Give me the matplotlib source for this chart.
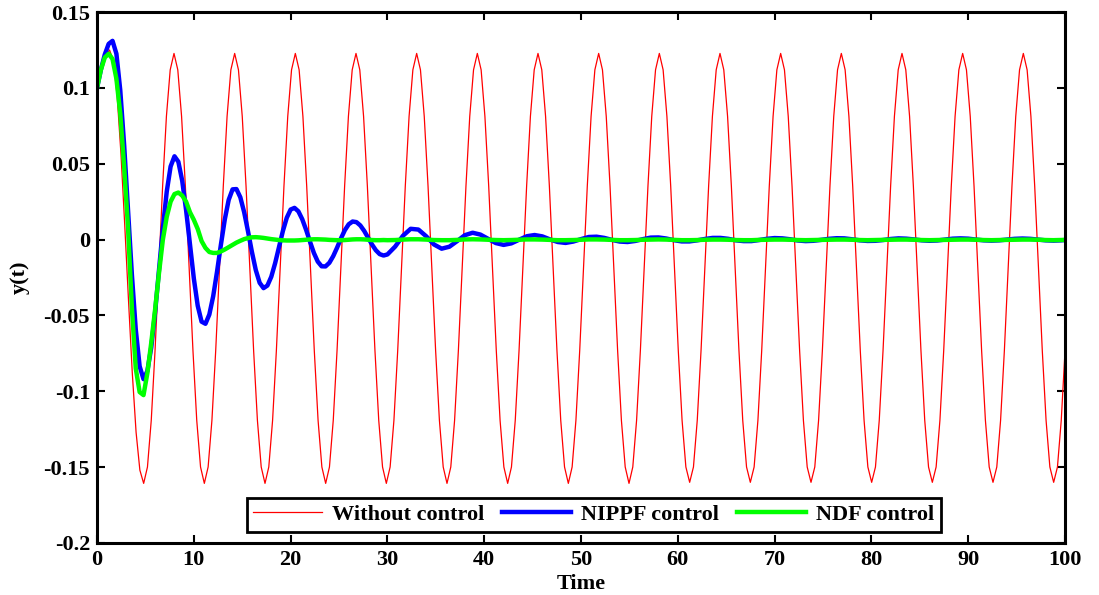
import numpy as np
import matplotlib
matplotlib.use("Agg")
import matplotlib.pyplot as plt

plt.rcParams['font.family'] = ['Liberation Serif', 'DejaVu Serif']
plt.rcParams['font.weight'] = 'bold'
plt.rcParams['axes.unicode_minus'] = False

# time grid of the uncontrolled response (sampled ~16 points per cycle)
t_red = np.concatenate([[0.0], 0.116 + 0.3917 * np.arange(256)])
# time grid of the controlled responses: fine first, coarse once they are small
t_ctrl = np.concatenate([np.arange(0, 29.7, 0.4), np.arange(30, 99.7, 0.8), [100.0]])

# Without control
y_red = [
    0.100,
    0.103, 0.113, 0.121, 0.125, 0.118, 0.095, 0.057, 0.010, -0.040, -0.088, -0.127, -0.152,
    -0.1607, -0.1499, -0.1192, -0.0732, -0.0190, 0.0352, 0.0812, 0.1119,
    0.1227, 0.1119, 0.0812, 0.0352, -0.0190, -0.0732, -0.1192, -0.1499, -0.1607, -0.1499, -0.1192, -0.0732, -0.0190, 0.0352, 0.0812, 0.1119,
    0.1227, 0.1119, 0.0812, 0.0352, -0.0190, -0.0732, -0.1192, -0.1499, -0.1607, -0.1499, -0.1192, -0.0732, -0.0190, 0.0352, 0.0812, 0.1119,
    0.1227, 0.1119, 0.0812, 0.0352, -0.0190, -0.0732, -0.1192, -0.1499, -0.1607, -0.1499, -0.1192, -0.0732, -0.0190, 0.0352, 0.0812, 0.1119,
    0.1227, 0.1119, 0.0812, 0.0352, -0.0190, -0.0732, -0.1192, -0.1499, -0.1607, -0.1499, -0.1192, -0.0732, -0.0190, 0.0352, 0.0812, 0.1119,
    0.1227, 0.1119, 0.0812, 0.0352, -0.0190, -0.0732, -0.1192, -0.1499, -0.1607, -0.1499, -0.1192, -0.0732, -0.0190, 0.0352, 0.0812, 0.1119,
    0.1227, 0.1119, 0.0812, 0.0352, -0.0190, -0.0732, -0.1192, -0.1499, -0.1607, -0.1499, -0.1192, -0.0732, -0.0190, 0.0352, 0.0812, 0.1119,
    0.1227, 0.1119, 0.0812, 0.0352, -0.0190, -0.0732, -0.1192, -0.1499, -0.1607, -0.1499, -0.1192, -0.0732, -0.0190, 0.0352, 0.0812, 0.1119,
    0.1227, 0.1119, 0.0812, 0.0352, -0.0190, -0.0732, -0.1192, -0.1499, -0.1607, -0.1499, -0.1192, -0.0732, -0.0190, 0.0352, 0.0812, 0.1119,
    0.1227, 0.1119, 0.0812, 0.0352, -0.0190, -0.0732, -0.1192, -0.1499, -0.1600, -0.1499, -0.1192, -0.0732, -0.0190, 0.0352, 0.0812, 0.1119,
    0.1227, 0.1119, 0.0812, 0.0352, -0.0190, -0.0732, -0.1192, -0.1499, -0.1600, -0.1499, -0.1192, -0.0732, -0.0190, 0.0352, 0.0812, 0.1119,
    0.1227, 0.1119, 0.0812, 0.0352, -0.0190, -0.0732, -0.1192, -0.1499, -0.1600, -0.1499, -0.1192, -0.0732, -0.0190, 0.0352, 0.0812, 0.1119,
    0.1227, 0.1119, 0.0812, 0.0352, -0.0190, -0.0732, -0.1192, -0.1499, -0.1600, -0.1499, -0.1192, -0.0732, -0.0190, 0.0352, 0.0812, 0.1119,
    0.1227, 0.1119, 0.0812, 0.0352, -0.0190, -0.0732, -0.1192, -0.1499, -0.1600, -0.1499, -0.1192, -0.0732, -0.0190, 0.0352, 0.0812, 0.1119,
    0.1227, 0.1119, 0.0812, 0.0352, -0.0190, -0.0732, -0.1192, -0.1499, -0.1600, -0.1499, -0.1192, -0.0732, -0.0190, 0.0352, 0.0812, 0.1119,
    0.1227, 0.1119, 0.0812, 0.0352, -0.0190, -0.0732, -0.1192, -0.1499, -0.1600, -0.1499, -0.1192, -0.0732,
]

# NIPPF control
y_nippf = [
    0.100, 0.112, 0.122, 0.129, 0.131, 0.1225, 0.0983, 0.0622, 0.0195, -0.0232,
    -0.0593, -0.0835, -0.0920, -0.0866, -0.0711, -0.0478, -0.0203, 0.0076, 0.0316, 0.0482,
    0.0549, 0.0513, 0.0387, 0.0194, -0.0034, -0.0257, -0.0436, -0.0541, -0.0555, -0.0494,
    -0.0373, -0.0210, -0.0032, 0.0134, 0.0262, 0.0331, 0.0333, 0.0279, 0.0180, 0.0053,
    -0.0082, -0.0201, -0.0285, -0.0320, -0.0303, -0.0245, -0.0155, -0.0048, 0.0057, 0.0144,
    0.0198, 0.0209, 0.0186, 0.0134, 0.0064, -0.0014, -0.0088, -0.0145, -0.0176, -0.0177,
    -0.0153, -0.0109, -0.0053, 0.0008, 0.0062, 0.0101, 0.0119, 0.0115, 0.0093, 0.0057,
    0.0013, -0.0032, -0.0070, -0.0096, -0.0105,
    -0.0098, -0.0046, 0.0025, 0.0071, 0.0066, 0.0022, -0.0032, -0.0060, -0.0047, -0.0010,
    0.0029, 0.0045, 0.0033, 0.0005, -0.0023, -0.0035, -0.0025, -0.0001, 0.0022, 0.0030,
    0.0021, 0.0001, -0.0016, -0.0022, -0.0013, 0.0003, 0.0017, 0.0019, 0.0011, -0.0002,
    -0.0013, -0.0016, -0.0009, 0.0003, 0.0013, 0.0014, 0.0007, -0.0004, -0.0012, -0.0012,
    -0.0005, 0.0004, 0.0011, 0.0011, 0.0005, -0.0005, -0.0010, -0.0010, -0.0003, 0.0005,
    0.0010, 0.0008, 0.0002, -0.0006, -0.0010, -0.0008, -0.0002, 0.0005, 0.0009, 0.0008,
    0.0002, -0.0005, -0.0009, -0.0008, -0.0003, 0.0004, 0.0008, 0.0006, 0.0001, -0.0005,
    -0.0008, -0.0006, 0.0000, 0.0006, 0.0008, 0.0006, 0.0000, -0.0005, -0.0007, -0.0005,
    0.0000, 0.0005, 0.0007, 0.0005, 0.0000, -0.0005, -0.0007, -0.0005, -0.0003,
]

# NDF control
y_ndf = [
    0.100, 0.112, 0.120, 0.1225, 0.119, 0.106, 0.083, 0.048, 0.008, -0.045,
    -0.085, -0.1005, -0.1025, -0.088, -0.068, -0.046, -0.022, 0.000, 0.015, 0.025,
    0.030, 0.031, 0.029, 0.025, 0.018, 0.013, 0.007, -0.001, -0.0055, -0.0082,
    -0.0088, -0.0088, -0.0078, -0.0065, -0.0050, -0.0035, -0.0020, -0.0008, 0.0003, 0.0010,
    0.0015, 0.0016, 0.0014, 0.0011, 0.0007, 0.0003, 0.0000, -0.0003, -0.0005, -0.0006,
    -0.0006, -0.0006, -0.0005, -0.0003, -0.0001, 0.0001, 0.0002, 0.0002, 0.0001, 0.0000,
    -0.0002, -0.0003, -0.0004, -0.0004, -0.0003, -0.0001, 0.0001, 0.0002, 0.0002, 0.0001,
    -0.0001, -0.0003, -0.0004, -0.0004, -0.0003,
    -0.0004, -0.0003, 0.0000, 0.0002, 0.0002, 0.0000, -0.0003, -0.0004, -0.0004, -0.0002,
    0.0001, 0.0002, 0.0001, -0.0001, -0.0003, -0.0004, -0.0003, -0.0001, 0.0001, 0.0001,
    0.0000, -0.0002, -0.0004, -0.0004, -0.0003, -0.0001, 0.0001, 0.0001, 0.0000, -0.0002,
    -0.0004, -0.0004, -0.0003, -0.0001, 0.0000, 0.0001, 0.0000, -0.0002, -0.0004, -0.0004,
    -0.0003, -0.0001, 0.0000, 0.0000, -0.0001, -0.0003, -0.0004, -0.0004, -0.0002, -0.0001,
    0.0000, 0.0000, -0.0001, -0.0003, -0.0004, -0.0003, -0.0002, -0.0001, 0.0000, 0.0000,
    -0.0001, -0.0003, -0.0004, -0.0003, -0.0002, -0.0001, 0.0000, 0.0000, -0.0001, -0.0003,
    -0.0004, -0.0003, -0.0002, -0.0001, 0.0000, 0.0000, -0.0001, -0.0003, -0.0004, -0.0003,
    -0.0002, -0.0001, 0.0000, 0.0000, -0.0001, -0.0003, -0.0004, -0.0003, -0.0002,
]

series_names = ['Without control', 'NIPPF control', 'NDF control']
x_ticks = [0, 10, 20, 30, 40, 50, 60, 70, 80, 90, 100]
y_ticks = [0.15, 0.1, 0.05, 0, -0.05, -0.1, -0.15, -0.2]
y_tick_labels = ['0.15', '0.1', '0.05', '0', '-0.05', '-0.1', '-0.15', '-0.2']

fig = plt.figure(figsize=(10.99, 5.95), dpi=100)
ax = fig.add_axes([0.0883, 0.0874, 0.8808, 0.8924])

ax.plot(t_red, y_red, color='#ff0000', lw=0.9, label=series_names[0])
ax.plot(t_ctrl, y_nippf, color='#0000ff', lw=3.2, label=series_names[1])
ax.plot(t_ctrl, y_ndf, color='#00ff00', lw=3.2, label=series_names[2])

ax.set_xlim(0, 100)
ax.set_ylim(-0.2, 0.15)
ax.set_xticks(x_ticks)
ax.set_xticklabels([str(v) for v in x_ticks])
ax.set_yticks(y_ticks)
ax.set_yticklabels(y_tick_labels)
ax.tick_params(direction='in', length=6, width=1.5, top=True, right=True,
               labelsize=16, pad=5)
for s in ax.spines.values():
    s.set_linewidth(2.2)

ax.set_xlabel('Time', fontsize=16, fontweight='bold', labelpad=3)
ax.set_ylabel('y(t)', fontsize=16, fontweight='bold', labelpad=10)

leg = ax.legend(loc='center', bbox_to_anchor=(0.513, 0.053), ncol=3,
                prop={'size': 16, 'weight': 'bold'}, frameon=True, fancybox=False,
                handlelength=3.1, handletextpad=0.45, columnspacing=0.8,
                borderpad=0.3, borderaxespad=0)
leg.get_frame().set_edgecolor('black')
leg.get_frame().set_linewidth(2)
leg.get_frame().set_alpha(1)

fig.savefig('out.png', dpi=100)
